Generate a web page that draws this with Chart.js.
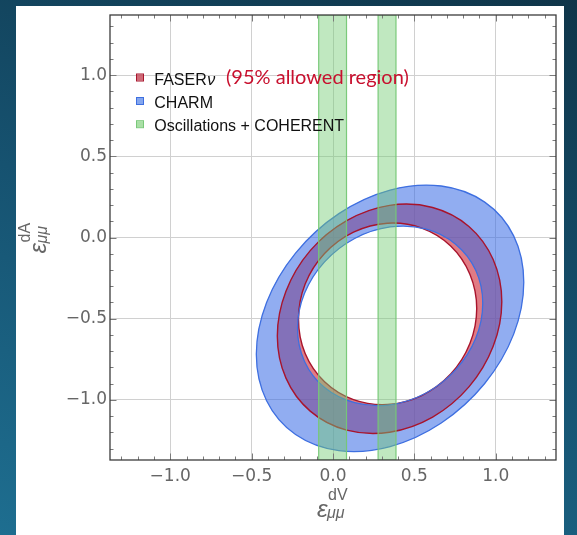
<!DOCTYPE html>
<html><head><meta charset="utf-8">
<script src="https://cdn.jsdelivr.net/npm/chart.js@4"></script>
<style>
html,body{margin:0;padding:0;}
body{width:577px;height:535px;overflow:hidden;position:relative;
 background:linear-gradient(200deg,#0f3549 0%,#165270 50%,#1e6e90 100%);}
#panel{position:absolute;left:16px;top:6px;width:548px;height:529px;background:#fff;}
#c{display:block;}
</style></head><body>
<div id="panel"><canvas id="c" width="548" height="529"></canvas></div>
<script>
// ---------- data ----------
const axisMin = -1.37, axisMax = 1.37;
const tickValues = [-1.0, -0.5, 0.0, 0.5, 1.0];
const tickLabels = ['\u22121.0', '\u22120.5', '0.0', '0.5', '1.0'];
const minorStep = 0.1;
const seriesNames = ['FASER', 'CHARM', 'Oscillations + COHERENT'];
const annotationText = '(95% allowed region)';

// FASERnu 95% allowed region (annulus): boundary points
const faserOuterX = [1.037, 0.984, 0.835, 0.612, 0.348, 0.084, -0.140, -0.289, -0.342, -0.289, -0.140, 0.084, 0.348, 0.612, 0.835, 0.984];
const faserOuterY = [-0.395, -0.136, 0.068, 0.185, 0.198, 0.104, -0.081, -0.331, -0.606, -0.866, -1.069, -1.186, -1.199, -1.106, -0.920, -0.670];
const faserInnerX = [0.883, 0.841, 0.723, 0.545, 0.335, 0.126, -0.052, -0.171, -0.212, -0.171, -0.052, 0.126, 0.335, 0.545, 0.723, 0.841];
const faserInnerY = [-0.437, -0.226, -0.052, 0.058, 0.088, 0.033, -0.099, -0.287, -0.503, -0.714, -0.888, -0.998, -1.028, -0.973, -0.841, -0.653];

// CHARM allowed region (annulus)
const charmOuterX = [1.172, 1.110, 0.932, 0.665, 0.351, 0.036, -0.230, -0.408, -0.471, -0.408, -0.230, 0.036, 0.351, 0.665, 0.932, 1.110];
const charmOuterY = [-0.276, 0.010, 0.218, 0.317, 0.292, 0.147, -0.096, -0.400, -0.719, -1.005, -1.213, -1.312, -1.287, -1.142, -0.899, -0.595];
const charmInnerX = [0.920, 0.877, 0.753, 0.569, 0.351, 0.133, -0.052, -0.175, -0.218, -0.175, -0.052, 0.133, 0.351, 0.569, 0.753, 0.877];
const charmInnerY = [-0.405, -0.202, -0.041, 0.053, 0.065, -0.006, -0.150, -0.344, -0.559, -0.763, -0.924, -1.017, -1.030, -0.959, -0.815, -0.621];

// Oscillations + COHERENT: vertical allowed bands in eps_dV
const bandLeftX = [-0.088, 0.277];
const bandRightX = [0.083, 0.387];

// ---------- styles ----------
const RED_LINE = '#a8142c', BLUE_LINE = '#3e6fe0', GREEN_LINE = 'rgba(118,200,118,0.95)';
const RED_FILL = 'rgba(205,35,50,0.6)', BLUE_FILL = 'rgba(55,105,230,0.55)', GREEN_FILL = 'rgba(115,205,115,0.45)';

function loopPts(xs, ys) {
  return xs.map((x, i) => ({x: x, y: ys[i]}));
}
function bandPts(i) {
  return [
    {x: bandLeftX[i], y: axisMin}, {x: bandLeftX[i], y: axisMax},
    {x: bandRightX[i], y: axisMax}, {x: bandRightX[i], y: axisMin}
  ];
}
function isMajor(v) {
  return tickValues.some(t => Math.abs(t - v) < 1e-6);
}

const common = {showLine: true, pointRadius: 0, pointHoverRadius: 0, fill: false, closed: true};
const datasets = [
  Object.assign({label: seriesNames[2], data: bandPts(0), order: 0, band: true, borderColor: GREEN_LINE, borderWidth: 1.2, tension: 0}, common),
  Object.assign({label: seriesNames[2], data: bandPts(1), order: 0, band: true, borderColor: GREEN_LINE, borderWidth: 1.2, tension: 0}, common),
  Object.assign({label: seriesNames[1] + ' outer', data: loopPts(charmOuterX, charmOuterY), order: 1, borderColor: BLUE_LINE, borderWidth: 1.3, tension: 0.34}, common),
  Object.assign({label: seriesNames[1] + ' inner', data: loopPts(charmInnerX, charmInnerY), order: 1, borderColor: BLUE_LINE, borderWidth: 1.3, tension: 0.34}, common),
  Object.assign({label: seriesNames[0] + ' outer', data: loopPts(faserOuterX, faserOuterY), order: 2, borderColor: RED_LINE, borderWidth: 1.4, tension: 0.34}, common),
  Object.assign({label: seriesNames[0] + ' inner', data: loopPts(faserInnerX, faserInnerY), order: 2, borderColor: RED_LINE, borderWidth: 1.4, tension: 0.34}, common)
];

function clipArea(ctx, a) {
  ctx.beginPath();
  ctx.rect(a.left, a.top, a.right - a.left, a.bottom - a.top);
  ctx.clip();
}
function tracePath(chart, ctx, idx) {
  const line = chart.getDatasetMeta(idx).dataset;
  line.updateControlPoints(chart.chartArea, 'x');
  line.path(ctx);
  ctx.closePath();
}

const regionPlugin = {
  id: 'regions',
  afterDatasetUpdate(chart, args) {
    const ds = chart.data.datasets[args.index];
    const line = args.meta.dataset;
    if (ds.closed && line) { line._loop = true; line._fullLoop = true; }
  },
  beforeDatasetsDraw(chart) {
    const ctx = chart.ctx, a = chart.chartArea;
    const rings = [[4, 5, RED_FILL], [2, 3, BLUE_FILL]];
    for (const r of rings) {
      ctx.save();
      clipArea(ctx, a);
      ctx.beginPath();
      tracePath(chart, ctx, r[0]);
      tracePath(chart, ctx, r[1]);
      ctx.fillStyle = r[2];
      ctx.fill('evenodd');
      ctx.restore();
    }
  },
  beforeDatasetDraw(chart, args) {
    const ds = chart.data.datasets[args.index];
    if (!ds.band) return;
    const ctx = chart.ctx;
    ctx.save();
    clipArea(ctx, chart.chartArea);
    ctx.beginPath();
    tracePath(chart, ctx, args.index);
    ctx.fillStyle = GREEN_FILL;
    ctx.fill();
    ctx.restore();
  },
  afterDatasetsDraw(chart) {
    const ctx = chart.ctx, a = chart.chartArea;
    const xs = chart.scales.x, ys = chart.scales.y;
    ctx.save();
    ctx.strokeStyle = '#7a7a7a';
    ctx.lineWidth = 1;
    ctx.beginPath();
    for (const t of xs.ticks) {
      const px = Math.round(xs.getPixelForValue(t.value)) + 0.5;
      const L = isMajor(t.value) ? 6.5 : 3.5;
      ctx.moveTo(px, a.bottom); ctx.lineTo(px, a.bottom - L);
      ctx.moveTo(px, a.top); ctx.lineTo(px, a.top + L);
    }
    for (const t of ys.ticks) {
      const py = Math.round(ys.getPixelForValue(t.value)) + 0.5;
      const L = isMajor(t.value) ? 6.5 : 3.5;
      ctx.moveTo(a.left, py); ctx.lineTo(a.left + L, py);
      ctx.moveTo(a.right, py); ctx.lineTo(a.right - L, py);
    }
    ctx.stroke();
    ctx.strokeStyle = '#3c3c3c';
    ctx.lineWidth = 1.3;
    ctx.strokeRect(a.left, a.top, a.right - a.left, a.bottom - a.top);
    ctx.restore();
  },
  afterDraw(chart) {
    const ctx = chart.ctx, a = chart.chartArea;
    ctx.save();
    // legend
    const swFill = ['rgba(200,80,95,0.85)', 'rgba(110,150,235,0.85)', 'rgba(160,220,155,0.9)'];
    const swLine = ['#a8142c', '#3e6fe0', '#79c879'];
    const rowsY = [71.5, 95, 118.2];
    ctx.textBaseline = 'alphabetic';
    for (let i = 0; i < 3; i++) {
      const cy = rowsY[i];
      ctx.fillStyle = swFill[i];
      ctx.fillRect(121, cy - 3, 6, 6);
      ctx.strokeStyle = swLine[i];
      ctx.lineWidth = 1;
      ctx.strokeRect(120.5, cy - 3.5, 7, 7);
      ctx.fillStyle = '#111';
      ctx.font = '16px "Liberation Sans", Arial, sans-serif';
      ctx.fillText(seriesNames[i], 138.3, cy + 7);
      if (i === 0) {
        const w = ctx.measureText(seriesNames[0]).width;
        ctx.font = 'italic 16px "Liberation Sans", Arial, sans-serif';
        ctx.fillText('\u03bd', 138.3 + w + 0.5, cy + 7);
      }
    }
    // red annotation
    ctx.font = '20px Lato, "Open Sans", sans-serif';
    ctx.fillStyle = '#c8102e';
    ctx.fillText(annotationText, 210, 77.5);

    // axis titles
    function drawTitle(sup) {
      ctx.fillStyle = '#666';
      ctx.font = 'italic 24px "Liberation Sans", Arial, sans-serif';
      ctx.fillText('\u03b5', 0, 0);
      const we = ctx.measureText('\u03b5').width;
      ctx.font = '16px "Liberation Sans", Arial, sans-serif';
      ctx.fillText(sup, we + 0.5, -16.5);
      ctx.font = 'italic 16px "Liberation Sans", Arial, sans-serif';
      ctx.fillText('\u03bc\u03bc', we - 0.5, 1);
    }
    const cx = (a.left + a.right) / 2;
    ctx.save();
    ctx.translate(cx - 16, 510.7);
    drawTitle('dV');
    ctx.restore();
    const cyy = (a.top + a.bottom) / 2;
    ctx.save();
    ctx.translate(30, cyy + 16);
    ctx.rotate(-Math.PI / 2);
    drawTitle('dA');
    ctx.restore();
    ctx.restore();
  }
};

function tickCb(v) {
  const i = tickValues.findIndex(t => Math.abs(t - v) < 1e-6);
  return i >= 0 ? tickLabels[i] : '';
}
const gridColor = c => (c.tick && isMajor(c.tick.value)) ? '#d0d0d0' : 'rgba(0,0,0,0)';
const tickFont = {family: '"DejaVu Sans", sans-serif', size: 17};

new Chart(document.getElementById('c'), {
  type: 'scatter',
  data: {datasets: datasets},
  options: {
    responsive: false,
    animation: false,
    events: [],
    layout: {padding: {top: 9, right: 8, left: 0, bottom: 0}},
    plugins: {legend: {display: false}, tooltip: {enabled: false}},
    scales: {
      x: {
        type: 'linear', min: axisMin, max: axisMax,
        afterFit(s) { s.height = 75; s.paddingLeft = 0; s.paddingRight = 0; },
        ticks: {stepSize: minorStep, includeBounds: false, autoSkip: false, maxRotation: 0,
                padding: 6, color: '#666', font: tickFont, callback: tickCb},
        grid: {drawTicks: false, color: gridColor, lineWidth: 1},
        border: {display: false}
      },
      y: {
        type: 'linear', min: axisMin, max: axisMax,
        afterFit(s) { s.width = 94; s.paddingTop = 0; s.paddingBottom = 0; },
        ticks: {stepSize: minorStep, includeBounds: false, autoSkip: false,
                padding: 3, color: '#666', font: tickFont, callback: tickCb},
        grid: {drawTicks: false, color: gridColor, lineWidth: 1},
        border: {display: false}
      }
    }
  },
  plugins: [regionPlugin]
});
</script>
</body></html>
